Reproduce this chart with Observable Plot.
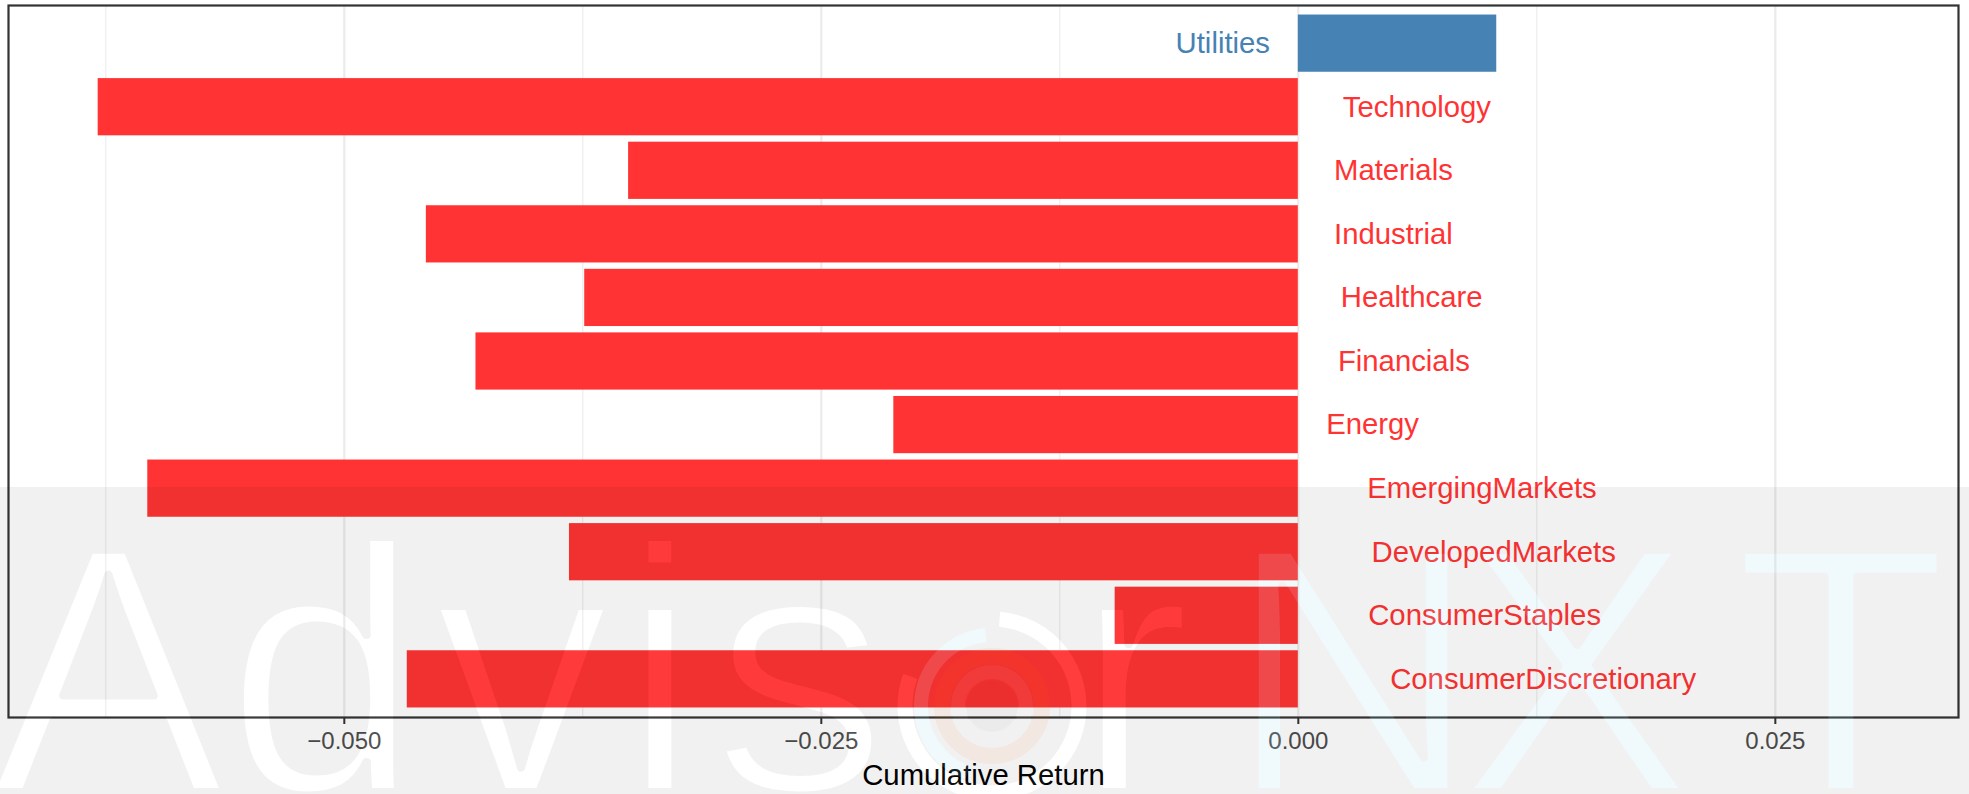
<!DOCTYPE html>
<html>
<head>
<meta charset="utf-8">
<script src="https://cdn.jsdelivr.net/npm/d3@7"></script>
<script src="https://cdn.jsdelivr.net/npm/@observablehq/plot@0.6"></script>
<style>
  html, body { margin: 0; padding: 0; background: #ffffff; }
  #wrap { position: relative; width: 1969px; height: 794px; overflow: hidden; }
  #overlay { position: absolute; left: 0; top: 0; pointer-events: none; }
</style>
</head>
<body>
<div id="wrap"></div>
<script>
// ---- data ----
const categories = ["Utilities", "Technology", "Materials", "Industrial", "Healthcare", "Financials",
  "Energy", "EmergingMarkets", "DevelopedMarkets", "ConsumerStaples", "ConsumerDiscretionary"];
const cumulativeReturns = [0.0104, -0.0629, -0.0351, -0.0457, -0.0374, -0.0431,
  -0.0212, -0.0603, -0.0382, -0.0096, -0.0467];
const xTicks = [-0.05, -0.025, 0, 0.025];
const xMinorTicks = [-0.0625, -0.0375, -0.0125, 0.0125];
const xDomain = [-0.0676, 0.0346];
const xTitle = "Cumulative Return";
const signColors = { pos: "#4682b4", neg: "#ff3333" };

const W = 1969, H = 794;
const FONT = "'Liberation Sans', Arial, Helvetica, sans-serif";
const labelSize = 29.3;

const data = categories.map((c, i) => ({
  category: c,
  value: cumulativeReturns[i],
  sign: cumulativeReturns[i] >= 0 ? "pos" : "neg"
}));

// measure label widths (ggplot hjust = -0.3 / 1.3)
const ctx = document.createElement("canvas").getContext("2d");
ctx.font = `${labelSize}px "Liberation Sans"`;
const labelMarks = data.map(d => {
  const w = ctx.measureText(d.category).width;
  const neg = d.value < 0;
  return Plot.text([d], {
    x: 0, y: "category", text: "category", fill: "sign",
    textAnchor: neg ? "start" : "end",
    dx: neg ? 0.3 * w : -0.3 * w,
    fontSize: labelSize, lineAnchor: "middle"
  });
});

const chart = Plot.plot({
  width: W, height: H,
  marginLeft: 8, marginRight: 11, marginTop: 5, marginBottom: 77,
  style: { fontFamily: FONT, background: "#ffffff", overflow: "visible" },
  x: { domain: xDomain, axis: null },
  y: { domain: categories, axis: null, paddingInner: 0.1, paddingOuter: 0.15, round: false },
  color: { domain: Object.keys(signColors), range: Object.values(signColors) },
  marks: [
    Plot.gridX(xMinorTicks, { stroke: "#ebebeb", strokeOpacity: 1, strokeWidth: 1.1 }),
    Plot.gridX(xTicks, { stroke: "#ebebeb", strokeOpacity: 1, strokeWidth: 2.2 }),
    Plot.barX(data, { x: "value", y: "category", fill: "sign" }),
    ...labelMarks,
    Plot.frame({ stroke: "#333333", strokeWidth: 2.2 }),
    Plot.axisX(xTicks, {
      tickFormat: d3.format(".3f"), tickSize: 7, tickPadding: 7,
      fontSize: 24, stroke: "#333333", strokeWidth: 2, fill: "#4d4d4d", label: null
    }),
    Plot.text([xTitle], { frameAnchor: "bottom", dy: 58, fontSize: 29.3, fill: "#000000", lineAnchor: "middle" })
  ]
});
document.getElementById("wrap").appendChild(chart);

// ---- watermark overlay (decorative) ----
const bandTop = 487;
const wmSize = 352, wmBase = 792, wmErode = 8;
const wmLetters = [
  ["A", 108, "w"], ["d", 323, "w"], ["v", 522, "w"], ["i", 660, "w"], ["s", 800, "w"],
  ["r", 1133, "w"], ["N", 1353, "c"], ["X", 1576, "c"], ["T", 1841, "c"]
];
const logo = { cx: 992, cy: 706 };
function arcPath(cx, cy, r, a0, a1) {
  const p = a => [cx + r * Math.sin(a * Math.PI / 180), cy - r * Math.cos(a * Math.PI / 180)];
  const [x0, y0] = p(a0), [x1, y1] = p(a1);
  const large = (a1 - a0) > 180 ? 1 : 0;
  return `M${x0},${y0} A${r},${r} 0 ${large} 1 ${x1},${y1}`;
}
const fam = FONT.replace(/'/g, "");
const letterText = (fill, stroke, filter) => wmLetters.filter(filter).map(([ch, x]) =>
  `<text x="${x}" y="${wmBase}" text-anchor="middle" font-size="${wmSize}" font-family="${fam}" fill="${fill}" stroke="${stroke}" stroke-width="${wmErode}" stroke-linejoin="round">${ch}</text>`).join("");
const outerArc = arcPath(logo.cx, logo.cy, 87, 5, 290);
const cyanArc = arcPath(logo.cx, logo.cy, 71, 200, 355);
const svgNS = `
<svg id="overlay" width="${W}" height="${H}" xmlns="http://www.w3.org/2000/svg">
  <defs>
    <mask id="wmMask" maskUnits="userSpaceOnUse" x="0" y="0" width="${W}" height="${H}">
      <rect x="0" y="${bandTop}" width="${W}" height="${H - bandTop}" fill="white"/>
      ${letterText("black", "white", () => true)}
      <path d="${outerArc}" stroke="black" stroke-width="15" fill="none"/>
      <path d="${cyanArc}" stroke="black" stroke-width="14" fill="none"/>
    </mask>
    <mask id="nxtMask" maskUnits="userSpaceOnUse" x="0" y="0" width="${W}" height="${H}">
      <rect x="0" y="0" width="${W}" height="${H}" fill="black"/>
      ${letterText("white", "black", l => l[2] === "c")}
    </mask>
    <mask id="wLetMask" maskUnits="userSpaceOnUse" x="0" y="0" width="${W}" height="${H}">
      <rect x="0" y="0" width="${W}" height="${H}" fill="black"/>
      ${letterText("white", "black", l => l[2] === "w")}
    </mask>
  </defs>
  <rect x="0" y="${bandTop}" width="${W}" height="${H - bandTop}" fill="#000" fill-opacity="0.056" mask="url(#wmMask)"/>
  <rect x="0" y="${bandTop}" width="${W}" height="${H - bandTop}" fill="rgba(255,255,255,0.035)" mask="url(#wLetMask)"/>
  <rect x="0" y="${bandTop}" width="${W}" height="${H - bandTop}" fill="rgba(150,215,235,0.14)" mask="url(#nxtMask)"/>
  <path d="${outerArc}" stroke="rgba(255,255,255,0.05)" stroke-width="15" fill="none"/>
  <path d="${cyanArc}" stroke="rgba(150,215,235,0.14)" stroke-width="14" fill="none"/>
  <circle cx="${logo.cx}" cy="${logo.cy}" r="50" stroke="rgba(255,120,20,0.07)" stroke-width="16" fill="none"/>
  <circle cx="${logo.cx}" cy="${logo.cy}" r="34" stroke="rgba(255,255,255,0.05)" stroke-width="14" fill="none"/>
  <circle cx="${logo.cx}" cy="${logo.cy}" r="26" fill="rgba(0,0,0,0.025)"/>
</svg>`;
document.getElementById("wrap").insertAdjacentHTML("beforeend", svgNS);
</script>
</body>
</html>
